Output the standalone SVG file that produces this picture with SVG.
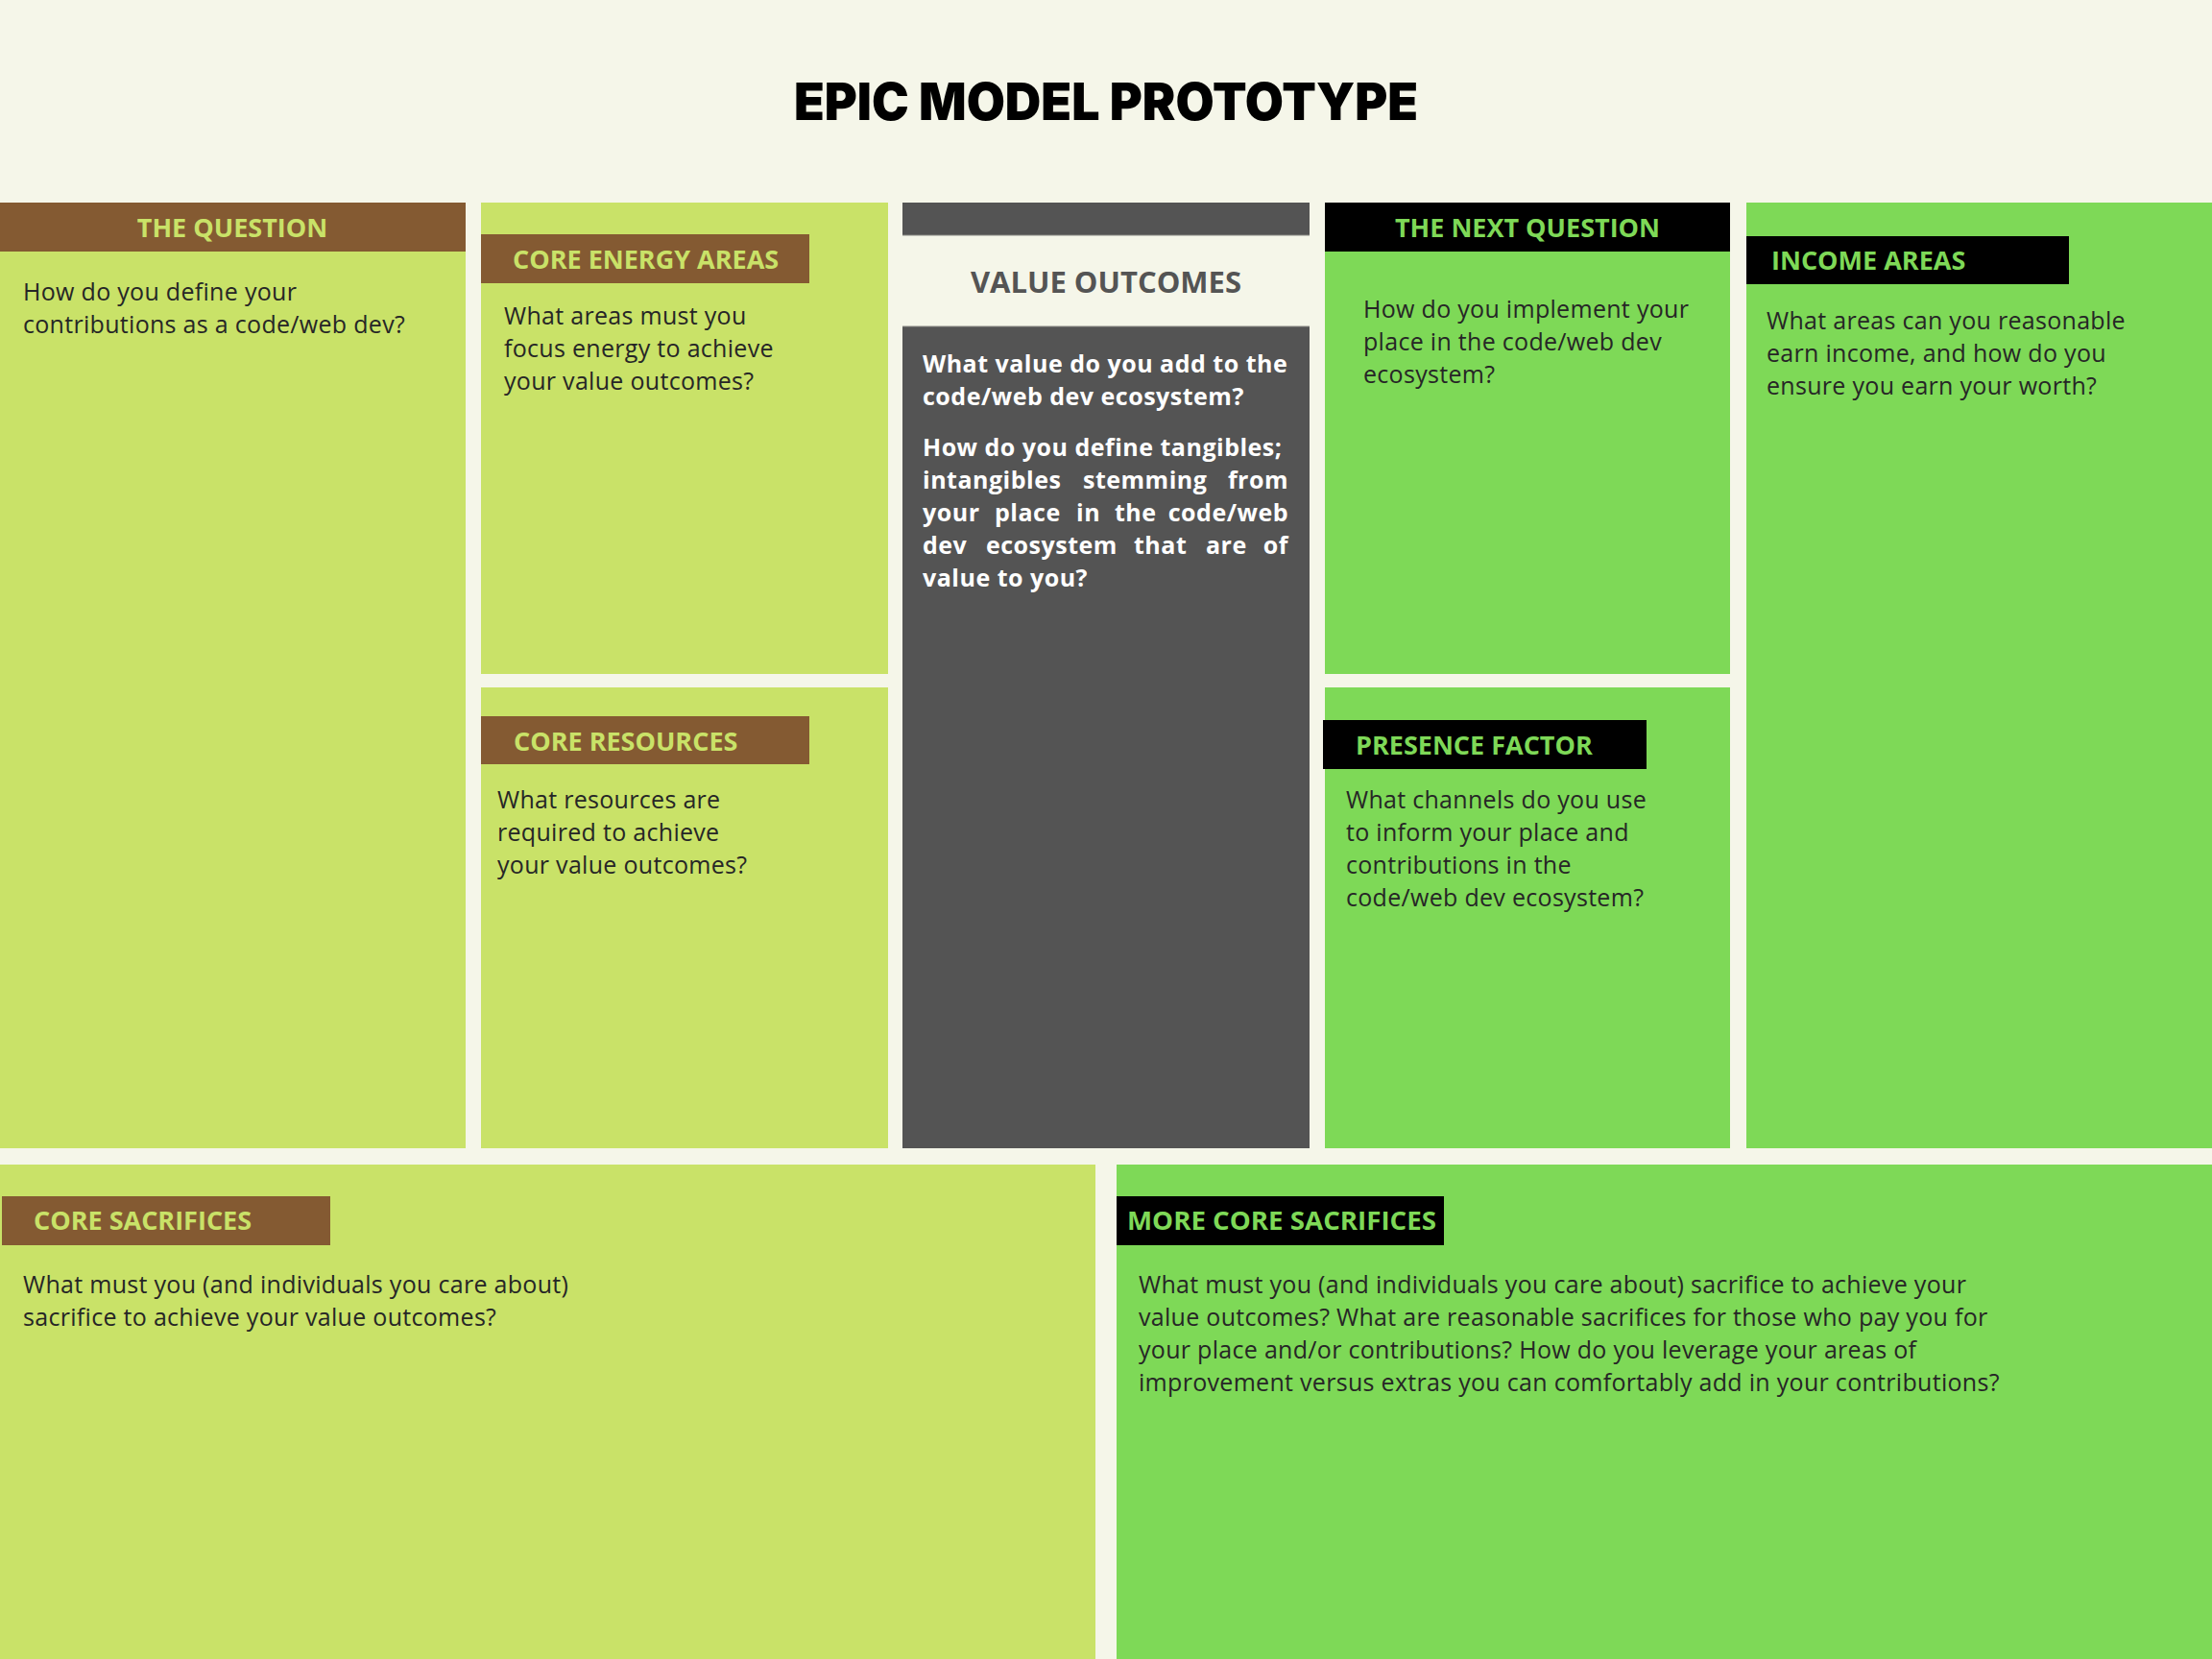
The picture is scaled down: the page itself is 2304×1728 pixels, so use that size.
<svg xmlns="http://www.w3.org/2000/svg" width="2304" height="1728" viewBox="0 0 2304 1728">
  <style>
    .bg { fill: #f5f6e9; }
    .lime { fill: #c9e268; }
    .green { fill: #7ed957; }
    .dark { fill: #545454; }
    .brownbar { fill: #845a32; }
    .blackbar { fill: #000000; }
    .title { font-family: Inter, "Open Sans", sans-serif; font-weight: 900; font-size: 54px; fill: #000000; }
    .hd { font-family: "Open Sans", sans-serif; font-weight: 700; font-size: 27px; }
    .hd-lime { fill: #c9e268; }
    .hd-green { fill: #7ed957; }
    .body { font-family: "Open Sans", sans-serif; font-size: 25px; letter-spacing: 0.3px; fill: #262626; }
    .vo-title { font-family: "Open Sans", sans-serif; font-weight: 700; font-size: 31px; fill: #545454; }
    .vo-body { font-family: "Open Sans", sans-serif; font-weight: 700; font-size: 25px; letter-spacing: 0.5px; fill: #ffffff; }
  </style>

  <rect class="bg" x="0" y="0" width="2304" height="1728"/>

  <text class="title" x="1152" y="125" text-anchor="middle" textLength="650" lengthAdjust="spacingAndGlyphs">EPIC MODEL PROTOTYPE</text>

  <g id="the-question">
    <rect class="lime" x="0" y="211" width="485" height="985"/>
    <rect class="brownbar" x="0" y="211" width="485" height="51"/>
    <text class="hd hd-lime" x="242" y="247" text-anchor="middle">THE QUESTION</text>
    <text class="body" x="24" y="313">How do you define your</text>
    <text class="body" x="24" y="347">contributions as a code/web dev?</text>
  </g>

  <g id="core-energy-areas">
    <rect class="lime" x="501" y="211" width="424" height="491"/>
    <rect class="brownbar" x="501" y="244" width="342" height="51"/>
    <text class="hd hd-lime" x="534" y="280">CORE ENERGY AREAS</text>
    <text class="body" x="525" y="338">What areas must you</text>
    <text class="body" x="525" y="372">focus energy to achieve</text>
    <text class="body" x="525" y="406">your value outcomes?</text>
  </g>

  <g id="core-resources">
    <rect class="lime" x="501" y="716" width="424" height="480"/>
    <rect class="brownbar" x="501" y="746" width="342" height="50"/>
    <text class="hd hd-lime" x="535" y="782">CORE RESOURCES</text>
    <text class="body" x="518" y="842">What resources are</text>
    <text class="body" x="518" y="876">required to achieve</text>
    <text class="body" x="518" y="910">your value outcomes?</text>
  </g>

  <g id="value-outcomes">
    <rect class="dark" x="940" y="211" width="424" height="985"/>
    <rect class="bg" x="940" y="245" width="424" height="95"/>
    <line x1="940" y1="245" x2="1364" y2="245" stroke="#8a8a85" stroke-width="1"/>
    <line x1="940" y1="340" x2="1364" y2="340" stroke="#8a8a85" stroke-width="1"/>
    <text class="vo-title" x="1152" y="305" text-anchor="middle">VALUE OUTCOMES</text>
    <text class="vo-body" x="961" y="388">What value do you add to the</text>
    <text class="vo-body" x="961" y="422">code/web dev ecosystem?</text>
    <text class="vo-body" x="961" y="475">How do you define tangibles;</text>
    <text class="vo-body" y="509"><tspan x="961">intangibles</tspan><tspan x="1128">stemming</tspan></text>
    <text class="vo-body" x="1342" y="509" text-anchor="end">from</text>
    <text class="vo-body" y="543"><tspan x="961">your</tspan><tspan x="1036">place</tspan><tspan x="1121">in</tspan><tspan x="1161">the</tspan></text>
    <text class="vo-body" x="1342" y="543" text-anchor="end">code/web</text>
    <text class="vo-body" y="577"><tspan x="961">dev</tspan><tspan x="1027">ecosystem</tspan><tspan x="1181">that</tspan><tspan x="1256">are</tspan></text>
    <text class="vo-body" x="1342" y="577" text-anchor="end">of</text>
    <text class="vo-body" x="961" y="611">value to you?</text>
  </g>

  <g id="the-next-question">
    <rect class="green" x="1380" y="211" width="422" height="491"/>
    <rect class="blackbar" x="1380" y="211" width="422" height="51"/>
    <text class="hd hd-green" x="1591" y="247" text-anchor="middle">THE NEXT QUESTION</text>
    <text class="body" x="1420" y="331">How do you implement your</text>
    <text class="body" x="1420" y="365">place in the code/web dev</text>
    <text class="body" x="1420" y="399">ecosystem?</text>
  </g>

  <g id="presence-factor">
    <rect class="green" x="1380" y="716" width="422" height="480"/>
    <rect class="blackbar" x="1378" y="750" width="337" height="51"/>
    <text class="hd hd-green" x="1412" y="786">PRESENCE FACTOR</text>
    <text class="body" x="1402" y="842">What channels do you use</text>
    <text class="body" x="1402" y="876">to inform your place and</text>
    <text class="body" x="1402" y="910">contributions in the</text>
    <text class="body" x="1402" y="944">code/web dev ecosystem?</text>
  </g>

  <g id="income-areas">
    <rect class="green" x="1819" y="211" width="485" height="985"/>
    <rect class="blackbar" x="1819" y="246" width="336" height="50"/>
    <text class="hd hd-green" x="1845" y="281">INCOME AREAS</text>
    <text class="body" x="1840" y="343">What areas can you reasonable</text>
    <text class="body" x="1840" y="377">earn income, and how do you</text>
    <text class="body" x="1840" y="411">ensure you earn your worth?</text>
  </g>

  <g id="core-sacrifices">
    <rect class="lime" x="0" y="1213" width="1141" height="515"/>
    <rect class="brownbar" x="2" y="1246" width="342" height="51"/>
    <text class="hd hd-lime" x="35" y="1281">CORE SACRIFICES</text>
    <text class="body" x="24" y="1347">What must you (and individuals you care about)</text>
    <text class="body" x="24" y="1381">sacrifice to achieve your value outcomes?</text>
  </g>

  <g id="more-core-sacrifices">
    <rect class="green" x="1163" y="1213" width="1141" height="515"/>
    <rect class="blackbar" x="1163" y="1246" width="341" height="51"/>
    <text class="hd hd-green" x="1174" y="1281" textLength="322" lengthAdjust="spacingAndGlyphs">MORE CORE SACRIFICES</text>
    <text class="body" x="1186" y="1347">What must you (and individuals you care about) sacrifice to achieve your</text>
    <text class="body" x="1186" y="1381">value outcomes? What are reasonable sacrifices for those who pay you for</text>
    <text class="body" x="1186" y="1415">your place and/or contributions? How do you leverage your areas of</text>
    <text class="body" x="1186" y="1449">improvement versus extras you can comfortably add in your contributions?</text>
  </g>

  <g id="connectors"></g>
</svg>
